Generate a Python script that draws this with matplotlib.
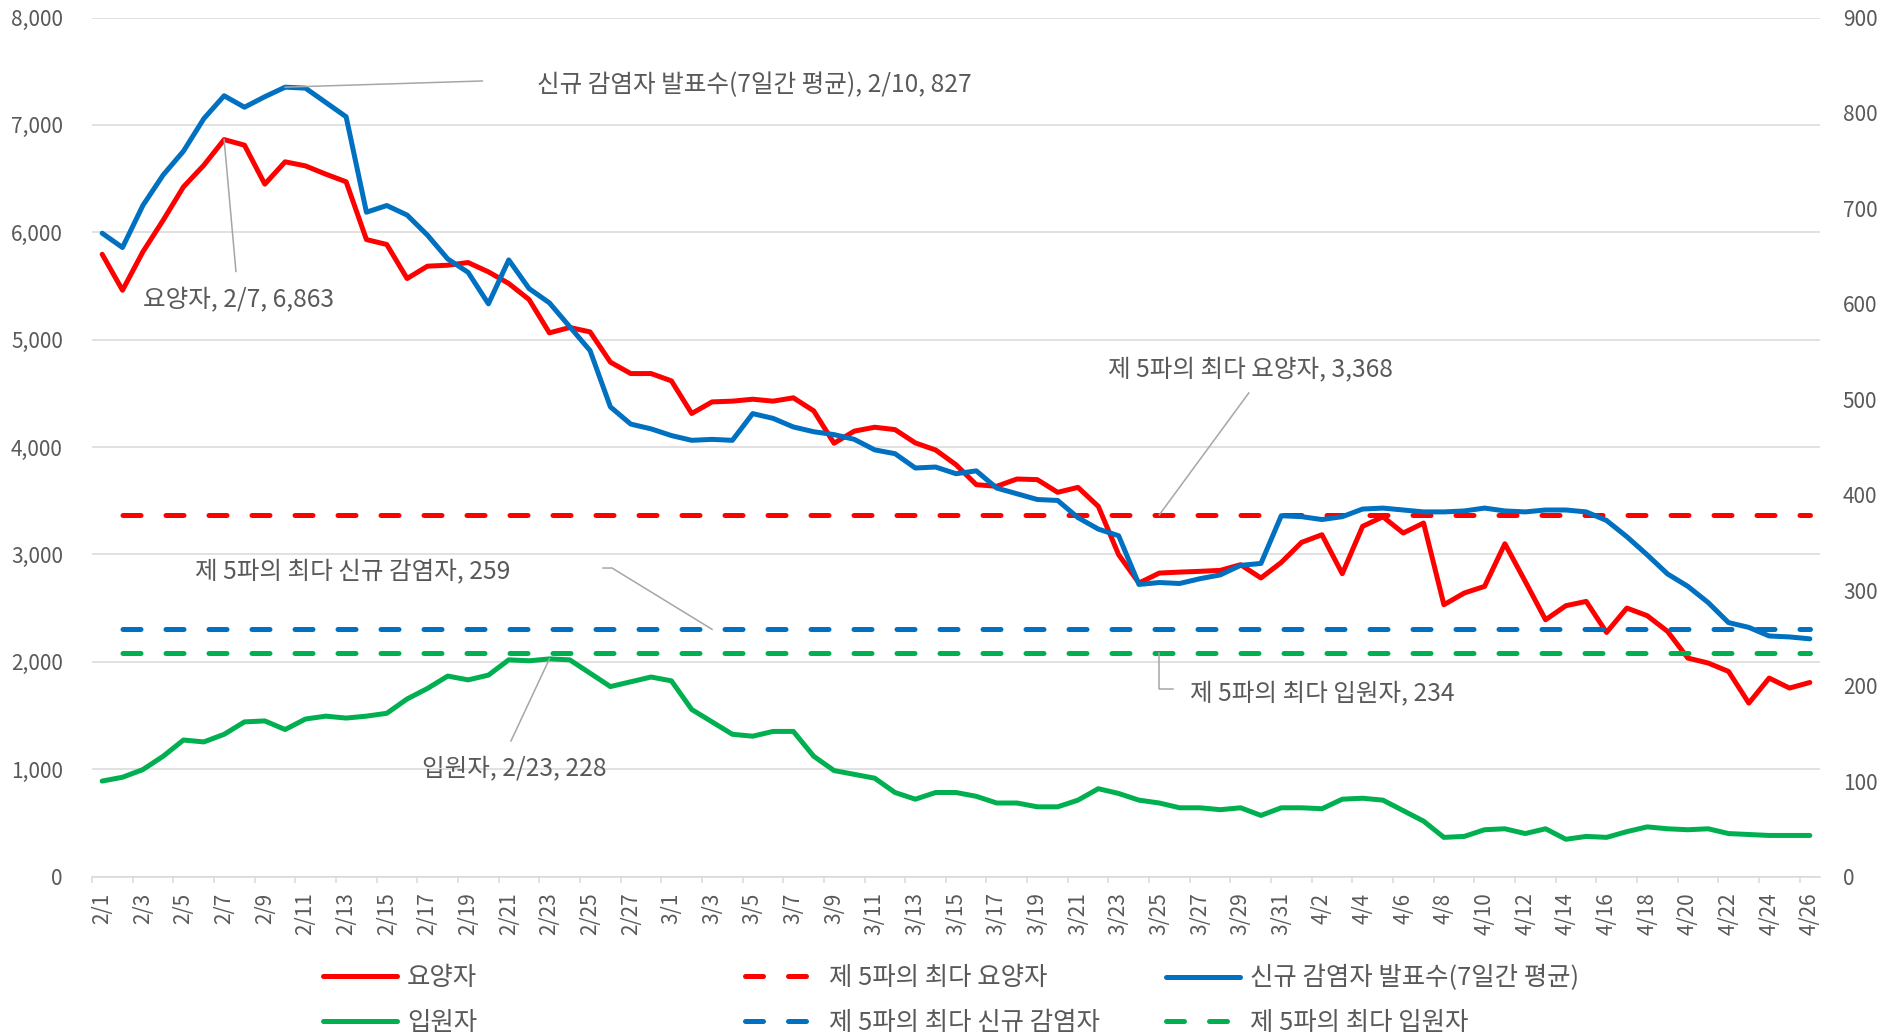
import numpy as np
import matplotlib
matplotlib.use("Agg")
import matplotlib.pyplot as plt
from matplotlib.lines import Line2D

plt.rcParams['font.family'] = ['Noto Sans CJK KR', 'DejaVu Sans']

# 날짜 라벨 (2/1 ~ 4/26)
month_days = [(2, 28), (3, 31), (4, 26)]
dates = [f"{m}/{d}" for m, n in month_days for d in range(1, n + 1)]

# 요양자 (왼쪽 축)
yoyang = [5795, 5460, 5817, 6112, 6423, 6624, 6863, 6811, 6448, 6656,
          6618, 6541, 6470, 5932, 5886, 5569, 5684, 5693, 5718, 5631,
          5523, 5373, 5063, 5113, 5072, 4790, 4684, 4684,
          4616, 4312, 4420, 4427, 4445, 4427, 4458, 4337, 4035, 4148,
          4184, 4162, 4038, 3972, 3835, 3649, 3634, 3702, 3696, 3578,
          3624, 3447, 2997, 2733, 2826, 2835, 2842, 2851, 2904, 2780, 2925,
          3112, 3183, 2820, 3261, 3350, 3199, 3292, 2531, 2640, 2702,
          3099, 2748, 2391, 2522, 2562, 2273, 2500, 2429, 2283, 2034,
          1988, 1910, 1615, 1848, 1755, 1807]

# 신규 감염자 발표수(7일간 평균) (오른쪽 축)
sinkyu = [674, 659, 703, 735, 760, 794, 818, 806, 817, 827,
          826, 811, 796, 696, 703, 693, 672, 647, 633, 600,
          646, 616, 601, 576, 551, 492, 474, 469,
          462, 457, 458, 457, 485, 480, 471, 466, 463, 458,
          447, 443, 428, 429, 422, 425, 407, 401, 395, 394,
          376, 364, 357, 306, 308, 307, 312, 316, 326, 328, 378,
          377, 374, 377, 385, 386, 384, 382, 382, 383, 386,
          383, 382, 384, 384, 382, 373, 356, 337, 317, 304,
          287, 266, 261, 252, 251, 249]

# 입원자 (오른쪽 축)
ipwon = [100, 104, 112, 126, 143, 141, 149, 162, 163, 154,
         165, 168, 166, 168, 171, 186, 197, 210, 206, 211,
         227, 226, 228, 227, 213, 199, 204, 209,
         205, 175, 162, 149, 147, 152, 152, 126, 111, 107,
         103, 88, 81, 88, 88, 84, 77, 77, 73, 73,
         80, 92, 87, 80, 77, 72, 72, 70, 72, 64, 72,
         72, 71, 81, 82, 80, 69, 58, 41, 42, 49,
         50, 45, 50, 39, 42, 41, 47, 52, 50, 49,
         50, 45, 44, 43, 43, 43]

# 제 5파의 최다 값
max5_yoyang = 3368
max5_sinkyu = 259
max5_ipwon = 234

RED = '#FF0000'
BLUE = '#0070C0'
GREEN = '#00B050'
TXT = '#595959'
GRID = '#D9D9D9'
LEAD = '#A6A6A6'
LW = 3.6
DASH = (4.5, (3.6, 5.0))

x = np.arange(len(dates))

fig = plt.figure(figsize=(18.99, 10.36), dpi=100)
ax = fig.add_axes([92 / 1899, 1 - 876.5 / 1036, 1728 / 1899, 859 / 1036])
ax2 = ax.twinx()

ax.set_xlim(-0.5, len(dates) - 0.5)
ax.set_ylim(0, 8000)
ax2.set_ylim(0, 900)

# 주 축 계열
l_yoyang, = ax.plot(x, yoyang, color=RED, lw=LW, solid_joinstyle='round',
                    solid_capstyle='round')
ax.plot(x, np.full(len(x), max5_yoyang), color=RED, lw=LW,
        linestyle=DASH, dash_capstyle='round')

# 보조 축 계열
l_sinkyu, = ax2.plot(x, sinkyu, color=BLUE, lw=LW, solid_joinstyle='round',
                     solid_capstyle='round')
l_ipwon, = ax2.plot(x, ipwon, color=GREEN, lw=LW, solid_joinstyle='round',
                    solid_capstyle='round')
ax2.plot(x, np.full(len(x), max5_sinkyu), color=BLUE, lw=LW,
         linestyle=DASH, dash_capstyle='round')
ax2.plot(x, np.full(len(x), max5_ipwon), color=GREEN, lw=LW,
         linestyle=DASH, dash_capstyle='round')

# 축 서식
ax.set_yticks(range(0, 8001, 1000))
ax.set_yticklabels([f"{v:,}" for v in range(0, 8001, 1000)])
ax.yaxis.grid(True, color=GRID, lw=1.1)
ax.set_axisbelow(True)
ax.tick_params(axis='y', length=0, pad=20.9, labelsize=15, labelcolor=TXT)
ax2.set_yticks(range(0, 901, 100))
ax2.tick_params(axis='y', length=0, pad=16.5, labelsize=15, labelcolor=TXT)

ax.set_xticks(x[::2])
ax.set_xticklabels(dates[::2], rotation=90)
ax.set_xticks(np.arange(-0.5, len(dates) - 1, 2), minor=True)
ax.tick_params(axis='x', which='major', length=0, pad=11.5, labelsize=15,
               labelcolor=TXT)
ax.tick_params(axis='x', which='minor', length=4.3, width=1.1, color=GRID)

for a in (ax, ax2):
    for s in ('top', 'left', 'right'):
        a.spines[s].set_visible(False)
ax2.spines['bottom'].set_visible(False)
ax.spines['bottom'].set_color(GRID)
ax.spines['bottom'].set_linewidth(1.1)

# 데이터 레이블 (보조 축 좌표 사용)
r = 900 / 8000
fs = 17.7
i_pk_s = int(np.argmax(sinkyu))
i_pk_y = int(np.argmax(yoyang))
i_pk_i = int(np.argmax(ipwon))

ax2.plot([i_pk_s, 18.7], [sinkyu[i_pk_s], 833.5], color=LEAD, lw=1.1)
ax2.text(21.4, 829, f"신규 감염자 발표수(7일간 평균), {dates[i_pk_s]}, {sinkyu[i_pk_s]}",
         fontsize=fs, color=TXT, ha='left', va='center')

ax2.plot([i_pk_y, 6.58], [yoyang[i_pk_y] * r, 634], color=LEAD, lw=1.1)
ax2.text(6.73, 604, f"요양자, {dates[i_pk_y]}, {yoyang[i_pk_y]:,}",
         fontsize=fs, color=TXT, ha='center', va='center')

ax2.plot([52, 56.4], [max5_yoyang * r, 506.6], color=LEAD, lw=1.1)
ax2.text(56.5, 530.7, f"제 5파의 최다 요양자, {max5_yoyang:,}",
         fontsize=fs, color=TXT, ha='center', va='center')

ax2.plot([30, 25.08, 24.64], [max5_sinkyu, 323.2, 323.2], color=LEAD, lw=1.1)
ax2.text(12.34, 319, f"제 5파의 최다 신규 감염자, {max5_sinkyu}",
         fontsize=fs, color=TXT, ha='center', va='center')

ax2.plot([52, 52, 52.67], [max5_ipwon, 196.5, 196.5], color=LEAD, lw=1.1)
ax2.text(60.0, 192.3, f"제 5파의 최다 입원자, {max5_ipwon}",
         fontsize=fs, color=TXT, ha='center', va='center')

ax2.plot([i_pk_i, 20.11], [ipwon[i_pk_i], 142], color=LEAD, lw=1.1)
ax2.text(20.26, 113.7, f"입원자, {dates[i_pk_i]}, {ipwon[i_pk_i]}",
         fontsize=fs, color=TXT, ha='center', va='center')

# 범례
lfs = 18.3

def dash_proxy(c):
    return Line2D([], [], color=c, lw=LW, linestyle=(0, (3.6, 5.0)),
                  dash_capstyle='round')

def solid_proxy(c):
    return Line2D([], [], color=c, lw=LW, solid_capstyle='round')

cols = [
    ([solid_proxy(RED), solid_proxy(GREEN)], ['요양자', '입원자'], 323),
    ([dash_proxy(RED), dash_proxy(BLUE)], ['제 5파의 최다 요양자', '제 5파의 최다 신규 감염자'], 745),
    ([solid_proxy(BLUE), dash_proxy(GREEN)], ['신규 감염자 발표수(7일간 평균)', '제 5파의 최다 입원자'], 1166),
]
for hs, ls, px in cols:
    leg = fig.legend(hs, ls, loc='center left',
                     bbox_to_anchor=(px / 1899, 1 - 1000.5 / 1036),
                     frameon=False, fontsize=lfs, handlelength=2.9,
                     handletextpad=0.4, labelspacing=0.72, borderpad=0,
                     borderaxespad=0)
    for t in leg.get_texts():
        t.set_color(TXT)

fig.savefig('out.png', dpi=100)
